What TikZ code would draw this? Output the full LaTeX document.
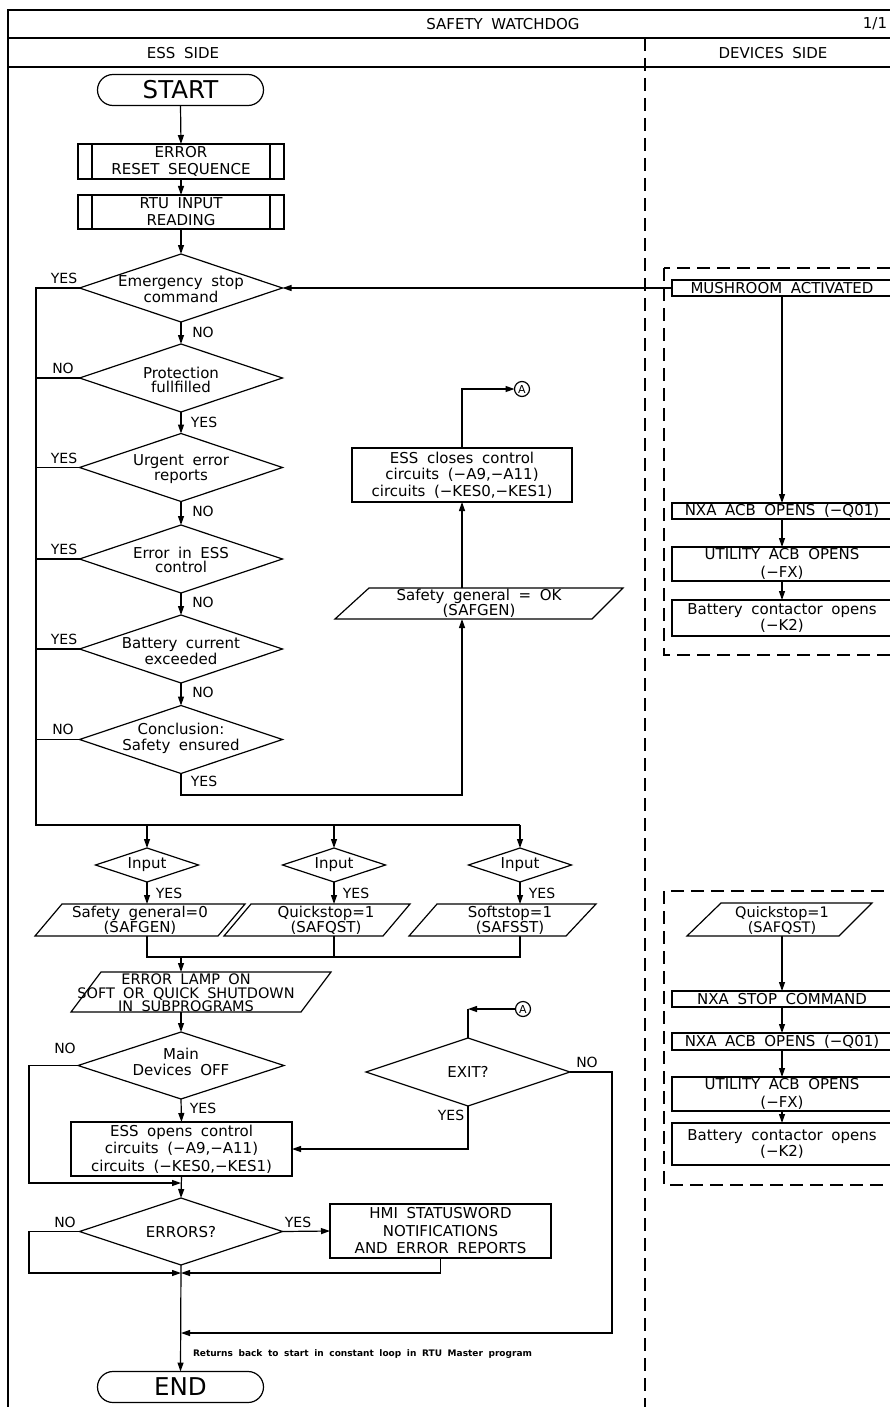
\documentclass[tikz,border=0pt]{standalone}
\usepackage{fontspec}
\setmainfont[WordSpace=1.8]{DejaVu Sans}
\usetikzlibrary{arrows.meta,shapes.geometric}
\begin{document}
\begin{tikzpicture}[x=1pt,y=-1pt,
  every node/.style={inner sep=0pt,outer sep=0pt,font=\fontsize{15}{17}\selectfont},
  ln/.style={line width=1.2pt},
  arr/.style={line width=1.2pt,-{Triangle[length=9pt,width=6pt]}},
  frm/.style={line width=1.6pt},
  dsh/.style={line width=1.2pt,dash pattern=on 13pt off 7pt},
  box/.style 2 args={draw,line width=1.2pt,rectangle,align=center,minimum width=#1pt,minimum height=#2pt},
  dec/.style 2 args={draw,line width=1.2pt,diamond,minimum width=#1pt,minimum height=#2pt},
  txt/.style 2 args={align=center,font=\fontsize{#1}{#2}\selectfont},
  lab/.style={font=\fontsize{14}{14}\selectfont},
  term/.style={draw,line width=1.2pt,rectangle,rounded corners=15.5pt,minimum width=166pt,minimum height=31pt,font=\fontsize{24.5}{25}\selectfont},
  conn/.style={draw,circle,line width=1.2pt,minimum size=15pt,font=\fontsize{11}{11}\selectfont}
]
\useasboundingbox (0,0) rectangle (890,1407);
\clip (0,0) rectangle (890,1407);
\fill[white] (0,0) rectangle (890,1407);

% ---------- frame ----------
\draw[frm] (8,1415) -- (8,10) -- (900,10);
\draw[frm] (8,38) -- (900,38);
\draw[frm] (8,67) -- (900,67);
\draw[dsh] (645,38) -- (645,1415);
\node (title) at (503,24) {SAFETY WATCHDOG};
\node (page) at (875,24) {1/1};
\node (essside) at (183,53) {ESS SIDE};
\node (devside) at (773,53) {DEVICES SIDE};

% ---------- main column ----------
\node[term] (start) at (180.5,90) {START};
\node[box={206}{35},txt={15}{17}] (reset) at (181,161.5) {ERROR\\RESET SEQUENCE};
\node[box={206}{34},txt={15}{17}] (rtu) at (181,212) {RTU INPUT\\READING};
\foreach \n in {reset,rtu}{
  \draw[ln] ([xshift=14pt]\n.north west) -- ([xshift=14pt]\n.south west);
  \draw[ln] ([xshift=-14pt]\n.north east) -- ([xshift=-14pt]\n.south east);
}

\node[dec={203}{68}] (d1) at (181,288) {};
\node[txt={15}{13}] (d1t) at (181,289) {Emergency stop\\command};
\node[dec={203}{68}] (d2) at (181,378) {};
\node[txt={15}{14}] (d2t) at (181,380) {Protection\\fullfilled};
\node[dec={203}{68}] (d3) at (181,467.5) {};
\node[txt={15}{13.5}] (d3t) at (181,469) {Urgent error\\reports};
\node[dec={203}{68}] (d4) at (181,559) {};
\node[txt={15}{13.5}] (d4t) at (181,560) {Error in ESS\\control};
\node[dec={203}{68}] (d5) at (181,649) {};
\node[txt={15}{13.5}] (d5t) at (181,651) {Battery current\\exceeded};
\node[dec={203}{68}] (d6) at (181,739.5) {};
\node[txt={15}{16}] (d6t) at (181,738) {Conclusion:\\Safety ensured};

\draw[arr] (start.south) -- (reset.north);
\draw[arr] (reset.south) -- (rtu.north);
\draw[arr] (rtu.south) -- (d1.north);
\draw[arr] (d1.south) -- (d2.north);
\draw[arr] (d2.south) -- (d3.north);
\draw[arr] (d3.south) -- (d4.north);
\draw[arr] (d4.south) -- (d5.north);
\draw[arr] (d5.south) -- (d6.north);

\node[lab] (l1y) at (64,278) {YES};
\node[lab] (l1n) at (203,332) {NO};
\node[lab] (l2n) at (63,368) {NO};
\node[lab] (l2y) at (204,422) {YES};
\node[lab] (l3y) at (64,458) {YES};
\node[lab] (l3n) at (203,511) {NO};
\node[lab] (l4y) at (64,549) {YES};
\node[lab] (l4n) at (203,602) {NO};
\node[lab] (l5y) at (64,639) {YES};
\node[lab] (l5n) at (203,692) {NO};
\node[lab] (l6n) at (63,729) {NO};
\node[lab] (l6y) at (204,781) {YES};

% left bus
\coordinate (bt) at (36,288);
\coordinate (bb) at (36,825);
\coordinate (br) at (520,825);
\draw[ln] (d1.west) -- (bt) -- (bb) -- (br);
\foreach \d in {d2,d3,d4,d5,d6} \draw[ln] (\d.west) -- (\d.west -| bt);

% safety OK branch
\node[box={220}{54},txt={15}{16.5}] (closes) at (462,475) {ESS closes control\\circuits (−A9,−A11)\\circuits (−KES0,−KES1)};
\node[conn] (A1) at (522,389) {A};
\draw[ln] (335,619) -- (369,588) -- (623,588) -- (592,619) -- cycle;
\node[txt={15}{11.5}] (okx) at (479,603.5) {Safety general = OK\\(SAFGEN)};
\coordinate (okb) at (462,619);
\coordinate (okt) at (462,588);
\coordinate (cy1) at (181,795);
\coordinate (cy2) at (462,795);
\draw[arr] (d6.south) -- (cy1) -- (cy2) -- (okb);
\draw[arr] (okt) -- (closes.south);
\draw[arr] (closes.north) |- (A1.west);

% ---------- devices side (top) ----------
\draw[dsh] (664,268) rectangle (910,655);
\node[box={220}{16}] (mush) at (782,288) {MUSHROOM ACTIVATED};
\node[box={220}{16}] (nxa1) at (782,511) {NXA ACB OPENS (−Q01)};
\node[box={220}{34},txt={15}{18}] (util1) at (782,564) {UTILITY ACB OPENS\\(−FX)};
\node[box={220}{36},txt={15}{16}] (bat1) at (782,618) {Battery contactor opens\\(−K2)};
\draw[arr] (mush.west) -- (d1.east);
\draw[arr] (mush.south) -- (nxa1.north);
\draw[arr] (nxa1.south) -- (util1.north);
\draw[arr] (util1.south) -- (bat1.north);

% ---------- input stage ----------
\node[dec={103}{34}] (i1) at (147,865) {};
\node (i1t) at (147,865) {Input};
\node[dec={103}{34}] (i2) at (334,865) {};
\node (i2t) at (334,865) {Input};
\node[dec={103}{34}] (i3) at (520,865) {};
\node (i3t) at (520,865) {Input};
\draw[arr] (br) -- (i3.north);
\draw[arr] (i1.north |- bb) -- (i1.north);
\draw[arr] (i2.north |- bb) -- (i2.north);
\node[lab] (i1y) at (169,893) {YES};
\node[lab] (i2y) at (356,893) {YES};
\node[lab] (i3y) at (542,893) {YES};

\draw[ln] (35,936) -- (62,904) -- (245,904) -- (218,936) -- cycle;
\node[txt={15}{12}] (p1x) at (140,920.5) {Safety general=0\\(SAFGEN)};
\draw[ln] (224,936) -- (251,904) -- (410,904) -- (383,936) -- cycle;
\node[txt={15}{12}] (p2x) at (326,920.5) {Quickstop=1\\(SAFQST)};
\draw[ln] (409,936) -- (437,904) -- (596,904) -- (566,936) -- cycle;
\node[txt={15}{12}] (p3x) at (510,920.5) {Softstop=1\\(SAFSST)};
\coordinate (p1top) at (147,904);
\coordinate (p2top) at (334,904);
\coordinate (p3top) at (520,904);
\coordinate (p1bot) at (147,936);
\coordinate (p2bot) at (334,936);
\coordinate (p3bot) at (520,936);
\draw[arr] (i1.south) -- (p1top);
\draw[arr] (i2.south) -- (p2top);
\draw[arr] (i3.south) -- (p3top);
\coordinate (mg1) at (147,957);
\coordinate (mg2) at (334,957);
\coordinate (mg3) at (520,957);
\coordinate (mgc) at (181,957);
\draw[ln] (p1bot) -- (mg1) -- (mg3) -- (p3bot);
\draw[ln] (p2bot) -- (mg2);

\draw[ln] (71,1012) -- (101,972) -- (331,972) -- (301,1012) -- cycle;
\node[txt={14.5}{13.5}] (lamp) at (186,993) {ERROR LAMP ON\\SOFT OR QUICK SHUTDOWN\\IN SUBPROGRAMS};
\coordinate (lampT) at (181,972);
\coordinate (lampB) at (181,1012);
\draw[arr] (mgc) -- (lampT);

% ---------- shutdown part ----------
\node[dec={206}{67}] (d7) at (181,1065.5) {};
\node[txt={15}{16}] (d7t) at (181,1062) {Main\\Devices OFF};
\draw[arr] (lampB) -- (d7.north);
\node[lab] (l7n) at (65,1048) {NO};
\node[lab] (l7y) at (203,1108) {YES};

\node[box={221}{54},txt={15}{17.5}] (essopen) at (181.5,1149) {ESS opens control\\circuits (−A9,−A11)\\circuits (−KES0,−KES1)};
\draw[arr] (d7.south) -- (essopen.north);
\coordinate (n7a) at (29,1065.5);
\coordinate (n7b) at (29,1183);
\coordinate (n7c) at (181,1183);
\draw[arr] (d7.west) -- (n7a) -- (n7b) -- (n7c);

\node[dec={204}{68}] (d8) at (468,1072) {};
\node (d8t) at (468,1072) {EXIT?};
\node[conn] (A2) at (523,1009) {A};
\coordinate (x8) at (468,1009);
\draw[arr] (A2.west) -- (x8);
\draw[ln] (x8) -- (d8.north);
\draw[arr] (d8.south) |- (essopen.east);
\node[lab] (l8y) at (451,1115) {YES};
\node[lab] (l8n) at (587,1062) {NO};
\coordinate (e8a) at (612,1072);
\coordinate (e8b) at (612,1333);
\coordinate (e8c) at (181,1333);
\draw[arr] (d8.east) -- (e8a) -- (e8b) -- (e8c);

\node[dec={203}{67}] (d9) at (181,1231.5) {};
\node (d9t) at (181,1232) {ERRORS?};
\draw[arr] (essopen.south) -- (d9.north);
\node[lab] (l9n) at (65,1222) {NO};
\node[lab] (l9y) at (298,1222) {YES};
\node[box={221}{54},txt={15}{17.5}] (hmi) at (440.5,1231) {HMI STATUSWORD\\NOTIFICATIONS\\AND ERROR REPORTS};
\draw[arr] (d9.east) -- (hmi.west);
\coordinate (n9a) at (29,1231.5);
\coordinate (n9b) at (29,1273);
\coordinate (mgE) at (181,1273);
\draw[arr] (d9.west) -- (n9a) -- (n9b) -- (mgE);
\draw[arr] (hmi.south) |- (mgE);

\node[term] (end) at (180.5,1387) {END};
\draw[arr] (d9.south) -- (end.north);
\node[anchor=west,font=\fontsize{9}{10}\bfseries] (note) at (193,1354) {Returns back to start in constant loop in RTU Master program};

% ---------- devices side (bottom) ----------
\draw[dsh] (664,891) rectangle (910,1185);
\draw[ln] (687,936) -- (721,903) -- (872,903) -- (839,936) -- cycle;
\node[txt={14.5}{12.5}] (qx) at (782,920) {Quickstop=1\\(SAFQST)};
\coordinate (qbot) at (782,936);
\node[box={220}{16}] (nxastop) at (782,999) {NXA STOP COMMAND};
\node[box={220}{17}] (nxa2) at (782,1041.5) {NXA ACB OPENS (−Q01)};
\node[box={220}{34},txt={15}{18}] (util2) at (782,1094) {UTILITY ACB OPENS\\(−FX)};
\node[box={220}{42},txt={15}{16}] (bat2) at (782,1144) {Battery contactor opens\\(−K2)};
\draw[arr] (qbot) -- (nxastop.north);
\draw[arr] (nxastop.south) -- (nxa2.north);
\draw[arr] (nxa2.south) -- (util2.north);
\draw[arr] (util2.south) -- (bat2.north);
\end{tikzpicture}
\end{document}
